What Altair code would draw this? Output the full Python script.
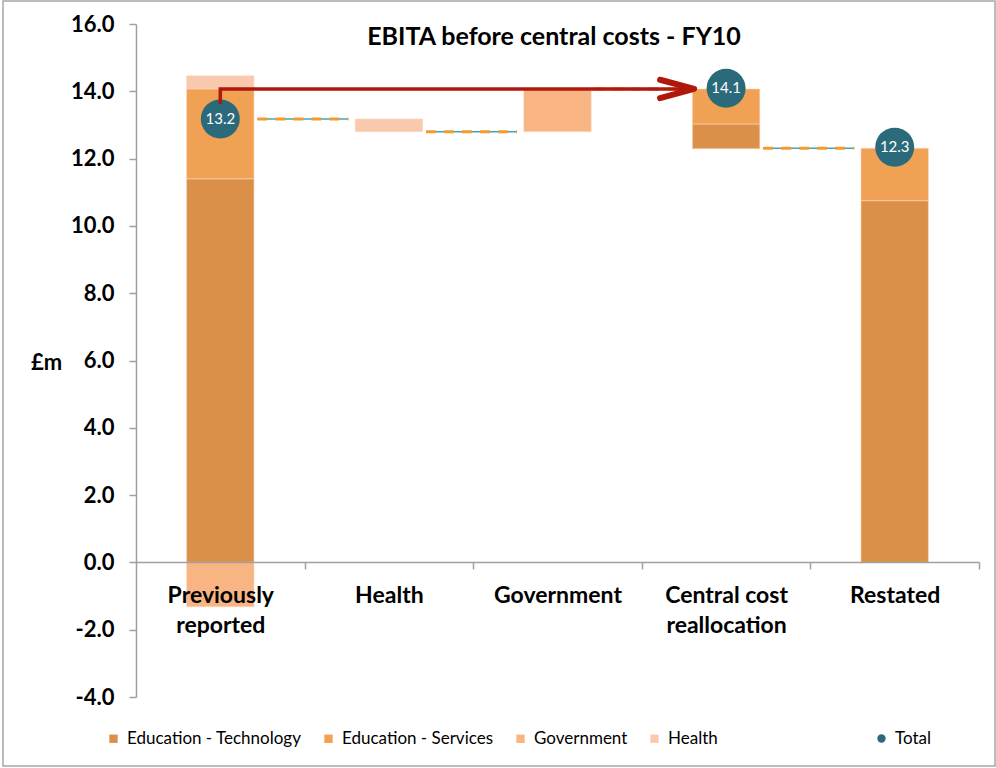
import json
import altair as alt
import pandas as pd

# ---------------- data ----------------
categories = ["Previously reported", "Health", "Government", "Central cost reallocation", "Restated"]
label_lines = [["Previously", "reported"], ["Health"], ["Government"], ["Central cost", "reallocation"], ["Restated"]]

series_names = ["Education - Technology", "Education - Services", "Government", "Health"]
series_colors = ["#DB904A", "#F0A153", "#F9B483", "#F9C9AE"]

seg_cat = [0, 0, 0, 0, 1, 2, 3, 3, 4, 4]
seg_series = ["Education - Technology", "Education - Services", "Health", "Government",
              "Health", "Government",
              "Education - Technology", "Education - Services",
              "Education - Technology", "Education - Services"]
seg_low = [0.0, 11.40, 14.07, -1.32, 12.80, 12.80, 12.29, 13.03, 0.0, 10.75]
seg_high = [11.40, 14.07, 14.46, 0.0, 13.18, 14.07, 13.03, 14.07, 10.75, 12.31]

conn_cat = [0, 1, 2, 3]
conn_level = [13.18, 12.80, 14.07, 12.31]

total_cat = [0, 3, 4]
total_value = [13.18, 14.09, 12.34]
total_text = ["13.2", "14.1", "12.3"]

arrow_pos = [0.0, 0.0, 2.81]
arrow_level = [13.62, 14.07, 14.07]

y_ticks = [-4, -2, 0, 2, 4, 6, 8, 10, 12, 14, 16]
chart_title = "EBITA before central costs - FY10"

FONT = "Lato"
AXIS_GRAY = "#A0A0A0"
TEAL = "#2A6A7A"

# ---------------- tables ----------------
seg_df = pd.DataFrame({"i": seg_cat, "series": seg_series, "low": seg_low, "high": seg_high})
conn_df = pd.DataFrame({"i": conn_cat, "level": conn_level})
tot_df = pd.DataFrame({"i": total_cat, "value": total_value, "text": total_text, "kind": ["Total"] * 3})
arrow_df = pd.DataFrame({"x": arrow_pos, "y": arrow_level, "o": list(range(len(arrow_pos)))})
title_df = pd.DataFrame({"t": [chart_title]})
frame_df = pd.DataFrame({"a": [0]})

x_scale = alt.Scale(domain=[-0.5, 4.5], nice=False, zero=False)
y_scale = alt.Scale(domain=[-4, 16], nice=False, zero=False)

x_vals = [0, 0.5, 1, 1.5, 2, 2.5, 3, 3.5, 4, 4.5]
x_axis = alt.Axis(
    values=x_vals,
    labelExpr=f"datum.value % 1 === 0 ? {json.dumps(label_lines)}[datum.value] : ''",
    tickOpacity={"condition": {"test": "datum.value % 1 === 0", "value": 0}, "value": 1},
    labelFlush=False, labelOverlap=False, labelBound=False,
    labelFont=FONT, labelFontSize=23, labelFontWeight="bold", labelColor="#000000",
    labelLineHeight=30, labelPadding=15, labelBaseline="top",
    domainColor=AXIS_GRAY, domainWidth=1.5, tickColor=AXIS_GRAY, tickWidth=1.5, tickSize=7,
    grid=False, title=None, offset=-135, zindex=1,
)
y_axis = alt.Axis(
    values=y_ticks,
    labelExpr="replace(format(datum.value, '.1f'), '\u2212', '-')",
    labelFont=FONT, labelFontSize=22, labelFontWeight="bold", labelColor="#000000",
    labelPadding=15,
    domainColor=AXIS_GRAY, domainWidth=1.5, tickColor=AXIS_GRAY, tickWidth=1.5, tickSize=7,
    grid=False,
    title="£m", titleAngle=0, titleX=-90, titleY=338, titleAlign="center", titleBaseline="middle",
    titleFont=FONT, titleFontSize=22, titleFontWeight="bold", titleColor="#000000",
)

bars = alt.Chart(seg_df).transform_calculate(
    x0="datum.i - 0.2", x1="datum.i + 0.2"
).mark_bar(stroke="#FBD9C0", strokeWidth=0.6).encode(
    x=alt.X("x0:Q", scale=x_scale, axis=x_axis),
    x2="x1:Q",
    y=alt.Y("low:Q", scale=y_scale, axis=y_axis),
    y2="high:Q",
    color=alt.Color("series:N",
                    scale=alt.Scale(domain=series_names, range=series_colors),
                    legend=alt.Legend(orient="none", legendX=-31, legendY=706, direction="horizontal",
                                      title=None, symbolType="square", symbolSize=70,
                                      symbolStrokeWidth=0, labelFont=FONT, labelFontSize=17,
                                      labelColor="#000000", labelOffset=5, columnPadding=18,
                                      labelLimit=400)),
)

conn_base = alt.Chart(conn_df).transform_calculate(
    x0="datum.i + 0.22", x1="datum.i + 0.76"
)
conn_teal = conn_base.mark_rule(color="#3FA7B5", strokeWidth=1.5).encode(
    x=alt.X("x0:Q", scale=x_scale), x2="x1:Q", y=alt.Y("level:Q", scale=y_scale)
)
conn_orange = conn_base.mark_rule(color="#F29C2E", strokeWidth=3, strokeDash=[10, 8]).encode(
    x=alt.X("x0:Q", scale=x_scale), x2="x1:Q", y=alt.Y("level:Q", scale=y_scale)
)

circles = alt.Chart(tot_df).mark_point(filled=True, size=1520, opacity=1, color=TEAL).encode(
    x=alt.X("i:Q", scale=x_scale),
    y=alt.Y("value:Q", scale=y_scale),
    shape=alt.Shape("kind:N", scale=alt.Scale(domain=["Total"], range=["circle"]),
                    legend=alt.Legend(orient="none", legendX=737, legendY=706, title=None,
                                      symbolFillColor=TEAL, symbolStrokeColor=TEAL, symbolSize=70,
                                      labelFont=FONT, labelFontSize=17, labelColor="#000000",
                                      labelOffset=5)),
)
circle_text = alt.Chart(tot_df).mark_text(color="white", font=FONT, fontSize=15).encode(
    x=alt.X("i:Q", scale=x_scale), y=alt.Y("value:Q", scale=y_scale), text="text:N"
)

arrow_line = alt.Chart(arrow_df).mark_line(color="#B0180D", strokeWidth=3.5, strokeJoin="miter").encode(
    x=alt.X("x:Q", scale=x_scale), y=alt.Y("y:Q", scale=y_scale), order="o:Q"
)
arrow_head = alt.Chart(arrow_df).transform_filter("datum.o === 2").mark_point(
    shape="M -1 -0.27 L 0 0 L -1 0.27", size=4624, filled=False, color="#B0180D",
    strokeWidth=6, strokeCap="round", strokeJoin="round", opacity=1
).encode(x=alt.X("x:Q", scale=x_scale), y=alt.Y("y:Q", scale=y_scale))

title_text = alt.Chart(title_df).mark_text(font=FONT, fontSize=25, fontWeight="bold", color="#000000",
                                           baseline="middle", align="center").encode(
    x=alt.value(418), y=alt.value(13), text="t:N"
)

frame = alt.Chart(frame_df).mark_rect(fill=None, stroke="#A6A6A6", strokeWidth=1.5).encode(
    x=alt.value(-133), x2=alt.value(859), y=alt.value(-23), y2=alt.value(742)
)

chart = alt.layer(
    frame, bars, conn_teal, conn_orange, circles, circle_text, arrow_line, arrow_head, title_text
).properties(
    width=843, height=673,
    padding={"left": 136, "top": 24, "right": 17, "bottom": 71},
    autosize=alt.AutoSizeParams(type="none"),
).configure_view(stroke=None).resolve_scale(color="independent")

chart.save("out.html", embed_options={"renderer": "svg", "actions": False})
